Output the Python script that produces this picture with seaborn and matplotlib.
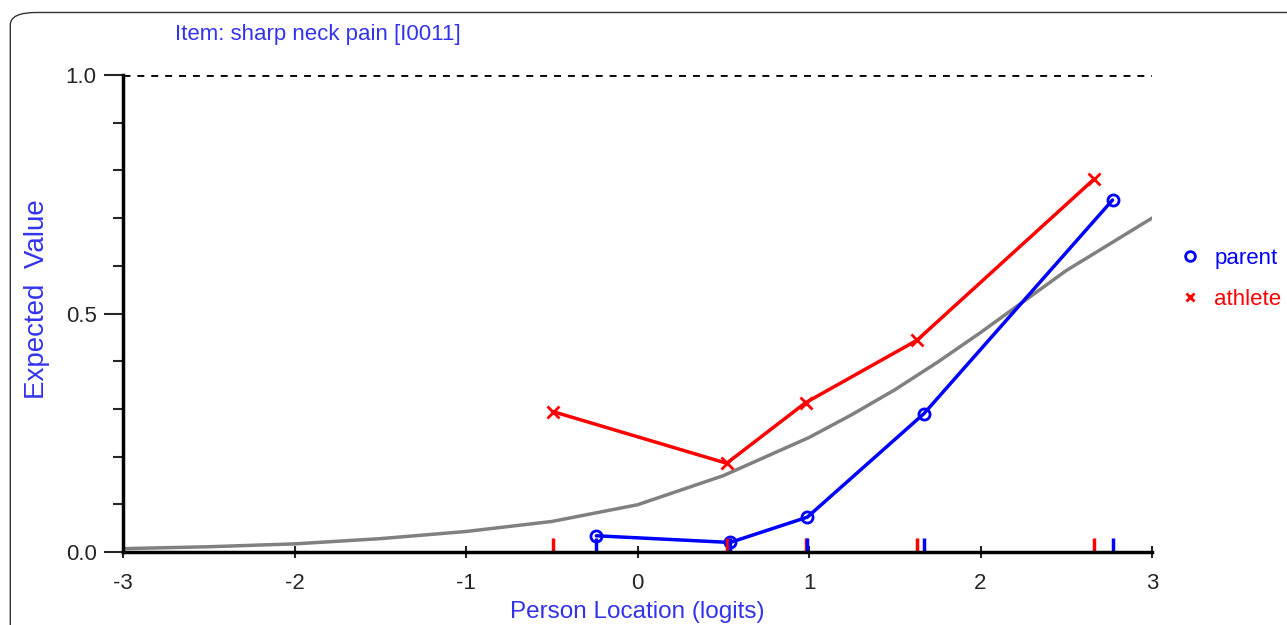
import seaborn as sns
import matplotlib.pyplot as plt
import pandas as pd
from matplotlib.lines import Line2D
from matplotlib.patches import FancyBboxPatch

# expected value curve (grey)
curve_x = [-3, -2.5, -2, -1.5, -1, -0.5, 0, 0.5, 1, 1.25, 1.5, 1.75, 2, 2.25, 2.5, 2.75, 3]
curve_y = [0.007, 0.011, 0.017, 0.028, 0.043, 0.064, 0.099, 0.160, 0.240, 0.288, 0.340, 0.398, 0.460, 0.525, 0.590, 0.645, 0.700]

# class intervals
parent_x = [-0.24, 0.54, 0.99, 1.67, 2.77]
parent_y = [0.034, 0.020, 0.073, 0.290, 0.738]
athlete_x = [-0.49, 0.52, 0.98, 1.63, 2.66]
athlete_y = [0.294, 0.186, 0.313, 0.444, 0.781]

BLUE = '#0000ff'
RED = '#ff0000'
TXT = '#3333ee'

sns.set_style('white')
plt.rcParams['font.family'] = ['Liberation Sans', 'DejaVu Sans']
plt.rcParams['axes.unicode_minus'] = False

fig = plt.figure(figsize=(12.87, 6.25), dpi=100)
ax = fig.add_axes([0.0956, 0.1168, 0.7995, 0.7632])

# rounded frame
fig.patches.append(FancyBboxPatch((0.008, -0.05), 1.1, 1.03, boxstyle='round,pad=0,rounding_size=0.02',
                                  transform=fig.transFigure, fill=False, ec='#333333', lw=1.0))

curve = pd.DataFrame({'x': curve_x, 'y': curve_y})
parent = pd.DataFrame({'x': parent_x, 'y': parent_y})
athlete = pd.DataFrame({'x': athlete_x, 'y': athlete_y})

sns.lineplot(data=curve, x='x', y='y', color='#808080', lw=2.5, ax=ax)
sns.lineplot(data=athlete, x='x', y='y', color=RED, lw=2.5, marker='x', markersize=9,
             markeredgecolor=RED, markeredgewidth=2, ax=ax)
sns.lineplot(data=parent, x='x', y='y', color=BLUE, lw=2.5, marker='o', markersize=8,
             markerfacecolor='none', markeredgecolor=BLUE, markeredgewidth=2, ax=ax)

sns.rugplot(x=athlete['x'], height=0.03, color=RED, linewidth=2.5, ax=ax)
sns.rugplot(x=parent['x'], height=0.03, color=BLUE, linewidth=2.5, ax=ax)

ax.axhline(1.0, color='black', lw=2, ls=(0, (2.5, 2.5)))

ax.set_xlim(-3, 3)
ax.set_ylim(0, 1)
ax.set_xticks(range(-3, 4))
ax.set_yticks([0, 0.5, 1.0])
ax.set_yticklabels(['0.0', '0.5', '1.0'])
ax.set_yticks([i / 10 for i in range(11)], minor=True)
ax.tick_params(axis='y', which='major', direction='out', length=14, width=1.5, labelsize=16, left=True, pad=5)
ax.tick_params(axis='y', which='minor', direction='out', length=7, width=1.5, left=True)
ax.tick_params(axis='x', direction='inout', length=8, width=1.5, labelsize=16, bottom=True, pad=11)

for s in ['top', 'right']:
    ax.spines[s].set_visible(False)
for s in ['left', 'bottom']:
    ax.spines[s].set_linewidth(2.5)
    ax.spines[s].set_color('black')

ax.set_xlabel('Person Location (logits)', color=TXT, fontsize=17.5, labelpad=5)
ax.set_ylabel('Expected  Value', color=TXT, fontsize=20)
ax.yaxis.set_label_coords(-0.071, 0.53)

fig.text(0.136, 0.936, 'Item: sharp neck pain [I0011]', color=TXT, fontsize=16,
         family=['Liberation Sans Narrow', 'Liberation Sans', 'DejaVu Sans'])

handles = [Line2D([], [], ls='none', marker='o', mfc='none', mec=BLUE, mew=2, ms=7),
           Line2D([], [], ls='none', marker='x', color=RED, mew=2, ms=6)]
leg = fig.legend(handles, ['parent', 'athlete'], loc='upper left', bbox_to_anchor=(0.902, 0.635),
                 frameon=False, fontsize=16, handlelength=0.8, handletextpad=0.7, labelspacing=0.9)
for t, c in zip(leg.get_texts(), [BLUE, RED]):
    t.set_color(c)

fig.savefig('out.png', dpi=100)
